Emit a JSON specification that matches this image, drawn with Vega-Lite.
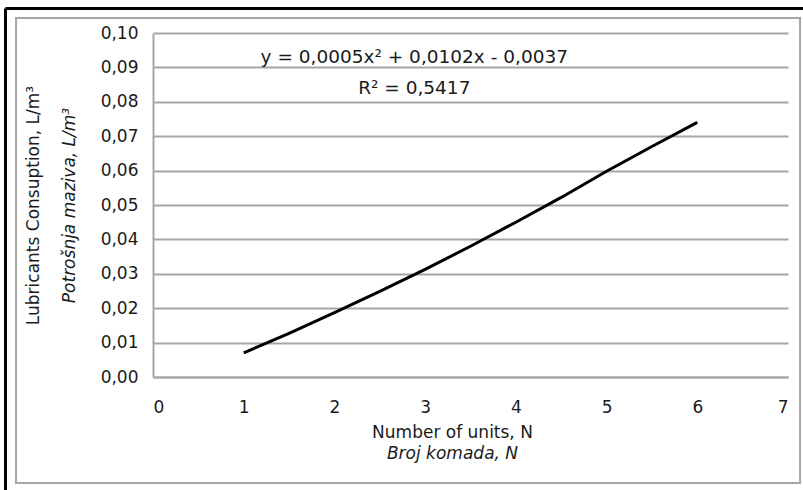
{
  "$schema": "https://vega.github.io/schema/vega-lite/v6.json",
  "width": 635,
  "height": 344,
  "autosize": {"type": "none"},
  "padding": {"left": 153, "top": 33, "right": 15, "bottom": 113},
  "background": "white",
  "config": {
    "view": {"stroke": null},
    "font": "DejaVu Sans",
    "text": {"font": "DejaVu Sans"}
  },
  "datasets": {
    "fit": [
      {"units": 1.0, "consumption": 0.0070},
      {"units": 1.5, "consumption": 0.0127},
      {"units": 2.0, "consumption": 0.0187},
      {"units": 2.5, "consumption": 0.0249},
      {"units": 3.0, "consumption": 0.0313},
      {"units": 3.5, "consumption": 0.0380},
      {"units": 4.0, "consumption": 0.0450},
      {"units": 4.5, "consumption": 0.0522},
      {"units": 5.0, "consumption": 0.0598},
      {"units": 5.5, "consumption": 0.0670},
      {"units": 6.0, "consumption": 0.0740}
    ],
    "one": [{"id": 1}]
  },
  "layer": [
    {
      "data": {"name": "one"},
      "mark": {"type": "rect", "fill": null, "stroke": "#a6a6a6", "strokeWidth": 2, "clip": false},
      "encoding": {
        "x": {"datum": -1.51, "type": "quantitative", "scale": {"domain": [0, 7], "nice": false, "zero": false}, "axis": null},
        "x2": {"datum": 7.133},
        "y": {"datum": 0.10436, "type": "quantitative", "scale": {"domain": [0, 0.1], "nice": false, "zero": false}, "axis": null},
        "y2": {"datum": -0.0308}
      }
    },
    {
      "data": {"name": "one"},
      "mark": {"type": "rule", "stroke": "black", "strokeWidth": 3, "clip": false},
      "encoding": {
        "x": {"datum": -1.626, "type": "quantitative", "scale": {"domain": [0, 7], "nice": false, "zero": false}, "axis": null},
        "x2": {"datum": 7.17},
        "y": {"datum": 0.10712, "type": "quantitative", "scale": {"domain": [0, 0.1], "nice": false, "zero": false}, "axis": null}
      }
    },
    {
      "data": {"name": "one"},
      "mark": {"type": "rule", "stroke": "black", "strokeWidth": 3, "clip": false},
      "encoding": {
        "x": {"datum": -1.626, "type": "quantitative", "scale": {"domain": [0, 7], "nice": false, "zero": false}, "axis": null},
        "y": {"datum": 0.10712, "type": "quantitative", "scale": {"domain": [0, 0.1], "nice": false, "zero": false}, "axis": null},
        "y2": {"datum": -0.034}
      }
    },
    {
      "data": {"name": "fit"},
      "mark": {"type": "line", "color": "black", "strokeWidth": 3},
      "encoding": {
        "x": {
          "field": "units", "type": "quantitative",
          "scale": {"domain": [0, 7], "nice": false, "zero": false},
          "axis": {
            "orient": "bottom",
            "values": [0, 1, 2, 3, 4, 5, 6, 7],
            "grid": false, "ticks": false,
            "domainColor": "#a6a6a6", "domainWidth": 2,
            "labelFont": "DejaVu Sans", "labelFontSize": 17, "labelColor": "#1a1a1a", "labelPadding": 22,
            "title": "Number of units, N",
            "titleFont": "DejaVu Sans", "titleFontSize": 17, "titleFontWeight": "normal", "titleColor": "#1a1a1a",
            "titlePadding": 9, "titleX": 299
          }
        },
        "y": {
          "field": "consumption", "type": "quantitative",
          "scale": {"domain": [0, 0.1], "nice": false, "zero": false},
          "axis": {
            "orient": "left",
            "values": [0, 0.01, 0.02, 0.03, 0.04, 0.05, 0.06, 0.07, 0.08, 0.09, 0.1],
            "labelExpr": "replace(format(datum.value, '.2f'), '.', ',')",
            "grid": true, "gridColor": "#a6a6a6", "gridWidth": 2,
            "ticks": false,
            "domainColor": "#a6a6a6", "domainWidth": 2,
            "labelFont": "DejaVu Sans", "labelFontSize": 17, "labelColor": "#1a1a1a", "labelPadding": 15,
            "title": "Potrošnja maziva, L/m³",
            "titleFont": "DejaVu Sans", "titleFontSize": 17, "titleFontWeight": "normal", "titleFontStyle": "italic", "titleColor": "#1a1a1a",
            "titlePadding": 22
          }
        }
      }
    },
    {
      "data": {"name": "one"},
      "mark": {"type": "text", "fontSize": 18.5, "lineHeight": 31, "align": "center", "baseline": "middle", "color": "#1a1a1a", "font": "DejaVu Sans"},
      "encoding": {
        "x": {
          "datum": 2.88, "type": "quantitative",
          "scale": {"domain": [0, 7], "nice": false, "zero": false},
          "axis": {
            "orient": "bottom", "labels": false, "ticks": false, "domain": false, "grid": false,
            "title": "Broj komada, N",
            "titleFont": "DejaVu Sans", "titleFontSize": 17, "titleFontWeight": "normal", "titleFontStyle": "italic", "titleColor": "#1a1a1a",
            "titlePadding": 68, "titleX": 299
          }
        },
        "y": {
          "datum": 0.09288, "type": "quantitative",
          "scale": {"domain": [0, 0.1], "nice": false, "zero": false},
          "axis": {
            "orient": "left", "labels": false, "ticks": false, "domain": false, "grid": false,
            "title": "Lubricants Consuption,  L/m³",
            "titleFont": "DejaVu Sans", "titleFontSize": 17, "titleFontWeight": "normal", "titleColor": "#1a1a1a",
            "titlePadding": 111
          }
        },
        "text": {"value": ["y = 0,0005x² + 0,0102x - 0,0037", "R² = 0,5417"]}
      }
    }
  ],
  "resolve": {"axis": {"x": "independent", "y": "independent"}}
}
